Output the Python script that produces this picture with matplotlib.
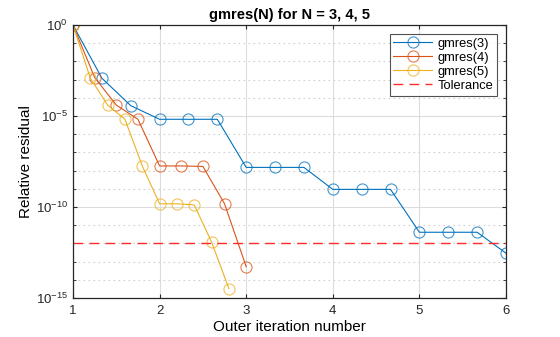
import matplotlib
matplotlib.use("Agg")
import matplotlib.pyplot as plt
from matplotlib.ticker import LogLocator, NullFormatter

plt.rcParams['font.family'] = ['Liberation Sans', 'DejaVu Sans']

# data (relative residual per outer iteration)
x3 = [1, 4/3, 5/3, 2, 7/3, 8/3, 3, 10/3, 11/3, 4, 13/3, 14/3, 5, 16/3, 17/3, 6]
r3 = [1, 1.2e-3, 3.7e-5, 6.6e-6, 6.6e-6, 6.6e-6, 1.5e-8, 1.5e-8, 1.5e-8,
      9.3e-10, 9.3e-10, 9.3e-10, 4.1e-12, 4.1e-12, 4.1e-12, 2.9e-13]

x4 = [1, 1.25, 1.5, 1.75, 2, 2.25, 2.5, 2.75, 3]
r4 = [1, 1.3e-3, 4e-5, 6.6e-6, 1.8e-8, 1.8e-8, 1.7e-8, 1.5e-10, 5.2e-14]

x5 = [1, 1.2, 1.4, 1.6, 1.8, 2, 2.2, 2.4, 2.6, 2.8]
r5 = [1, 1.2e-3, 4e-5, 6.6e-6, 1.8e-8, 1.5e-10, 1.5e-10, 1.3e-10, 1.2e-12, 3.3e-15]

tol = 1e-12
labels = ['gmres(3)', 'gmres(4)', 'gmres(5)', 'Tolerance']
colors = ['#0072BD', '#D95319', '#EDB120']

fig = plt.figure(figsize=(5.6, 3.37), dpi=100)
ax = fig.add_axes([73/560, 1 - 298/337, (506 - 73)/560, (298 - 25)/337])

for x, r, c, lab in zip([x3, x4, x5], [r3, r4, r5], colors, labels):
    mc = matplotlib.colors.to_rgba(c, 0.75)
    ax.semilogy(x, r, '-', color=c, lw=0.8, marker='o', ms=8, mfc='none',
                mec=mc, mew=0.8, label=lab)
ax.plot([1, 6], [tol, tol], '--', color='#FF2A2A', lw=1.0, dashes=(7, 4.5),
        label=labels[3])

ax.set_xlim(1, 6)
ax.set_ylim(1e-15, 1)
ax.set_xticks([1, 2, 3, 4, 5, 6])
ax.set_yticks([1e0, 1e-5, 1e-10, 1e-15])
ax.yaxis.set_minor_locator(LogLocator(base=10, subs=(1.0,), numticks=40))
ax.yaxis.set_minor_formatter(NullFormatter())

ax.grid(True, which='major', color='#DCDCDC', lw=0.8, ls='-')
ax.grid(True, which='minor', axis='y', color='#D0D0D0', lw=0.8, ls=(0, (1.5, 3)))
ax.set_axisbelow(True)
ax.tick_params(which='both', direction='in', top=True, right=True,
               labelsize=9.5, colors='#262626', length=3)
ax.tick_params(axis='x', pad=5)
ax.tick_params(which='minor', length=2)
for s in ax.spines.values():
    s.set_color('#262626')
    s.set_linewidth(0.9)

ax.set_title('gmres(N) for N = 3, 4, 5', fontsize=10.5, fontweight='bold', pad=4)
ax.set_xlabel('Outer iteration number', fontsize=11, labelpad=2)
ax.set_ylabel('Relative residual', fontsize=11, labelpad=2)

leg = ax.legend(loc='upper right', fontsize=9.3, frameon=True, fancybox=False,
                edgecolor='#262626', handlelength=3.0, borderpad=0.3,
                labelspacing=0.15, handletextpad=0.4, borderaxespad=0.7)
leg.get_frame().set_linewidth(0.8)

fig.savefig('out.png', dpi=100)
